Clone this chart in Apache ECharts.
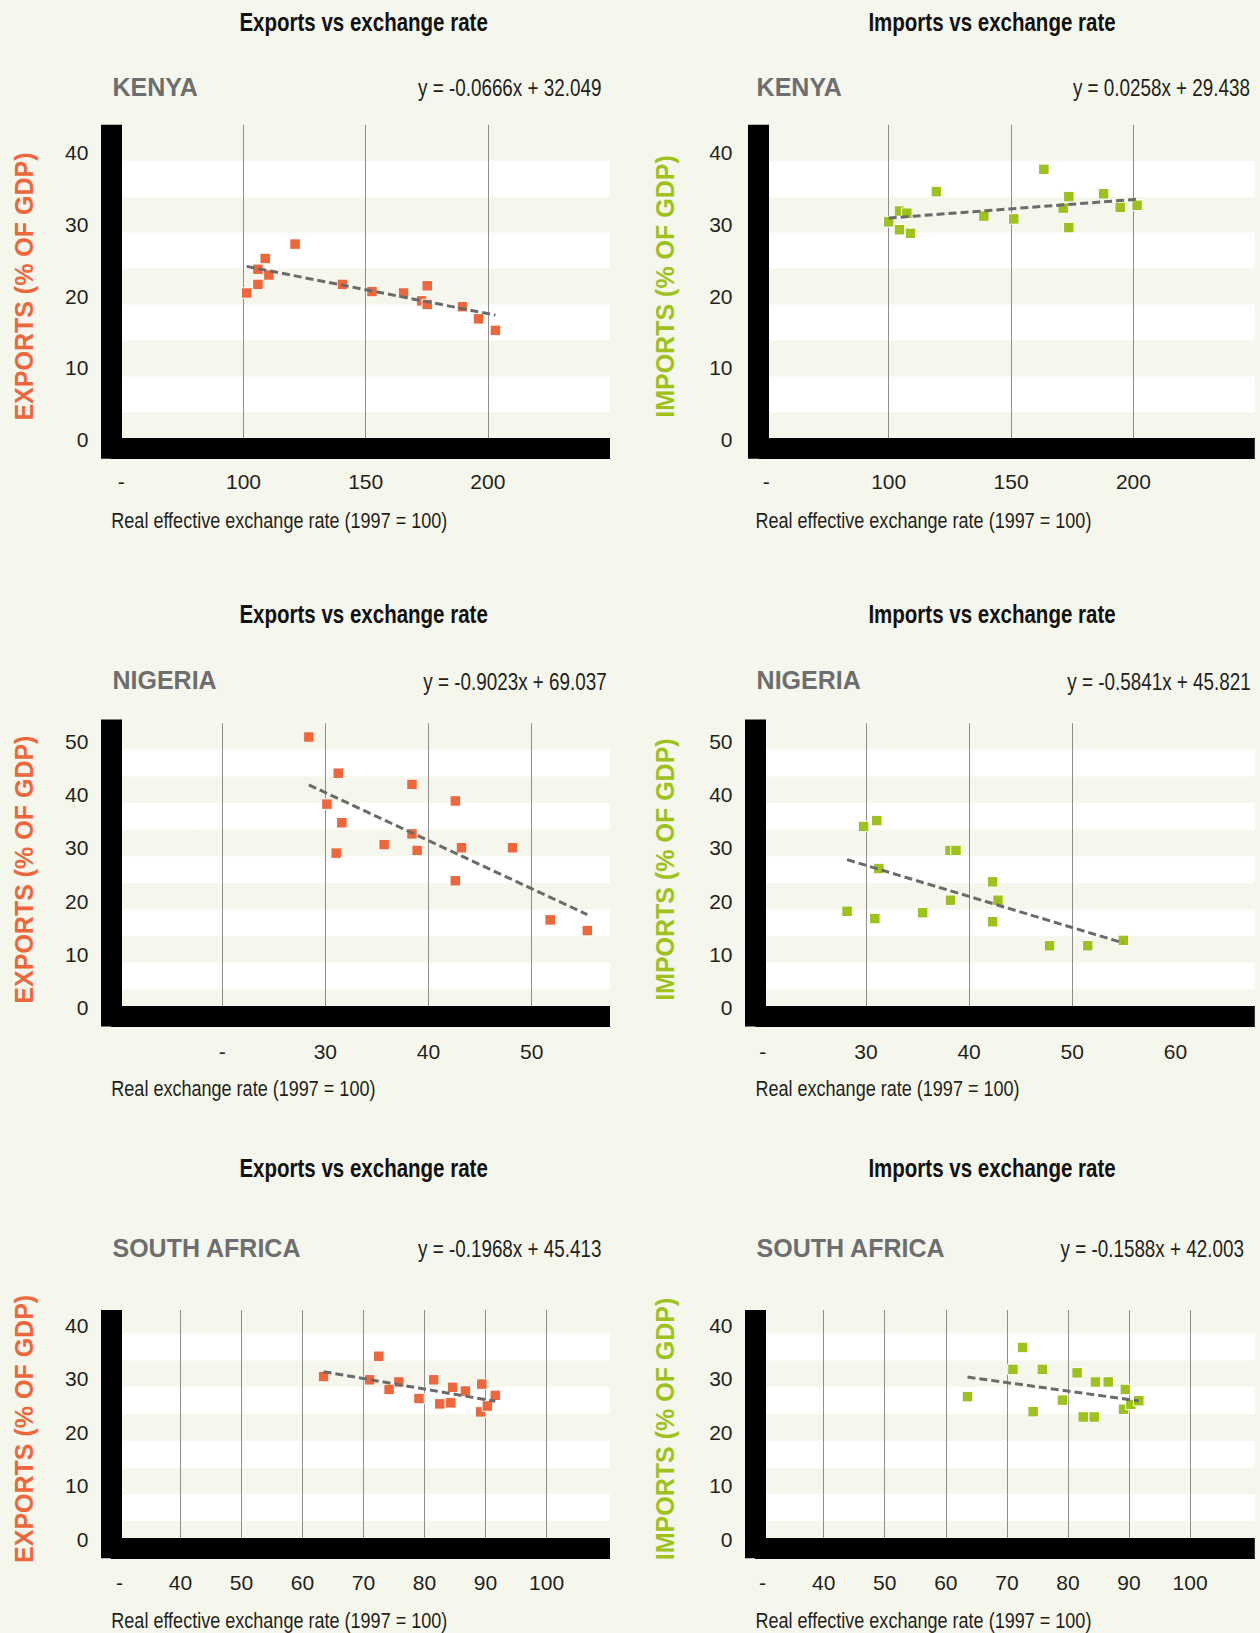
<!DOCTYPE html>
<html>
<head>
<meta charset="utf-8">
<script src="https://cdn.jsdelivr.net/npm/echarts@6/dist/echarts.min.js"></script>
<style>
html,body{margin:0;padding:0;background:#f6f7ec;}
#chart{width:1260px;height:1633px;}
</style>
</head>
<body>
<div id="chart"></div>
<script>
// ---------------- DATA ----------------
const kenyaExportsX = [101.3,105.9,105.9,108.9,110.4,121.1,140.5,152.6,165.5,172.9,175.2,175.2,189.6,196.2,203.1];
const kenyaExportsY = [21.6,22.8,24.9,26.4,24.1,28.4,22.8,21.8,21.6,20.5,20.0,22.6,19.7,18.0,16.4];
const kenyaImportsX = [100.0,104.4,104.4,107.4,108.9,119.5,138.9,151.1,163.4,171.3,173.6,173.6,187.8,194.6,201.5];
const kenyaImportsY = [31.5,33.0,30.4,32.7,29.9,35.7,32.3,31.9,38.8,33.4,35.0,30.7,35.4,33.5,33.8];

const nigeriaExportsX = [28.4,31.25,38.4,30.15,42.6,31.6,38.4,35.7,38.9,43.2,48.15,31.05,42.6,51.8,55.4];
const nigeriaExportsY = [52.4,45.6,43.5,39.8,40.4,36.3,34.2,32.2,31.1,31.6,31.6,30.6,25.4,18.05,16.05];
const nigeriaImportsX = [28.17,29.77,31.05,30.86,31.25,35.5,38.19,38.15,38.73,42.28,42.8,42.28,47.8,51.5,54.95];
const nigeriaImportsY = [19.67,35.6,36.7,18.3,27.7,19.4,21.75,31.1,31.1,25.2,21.75,17.7,13.2,13.2,14.2];

const southAfricaExportsX = [63.45,72.5,71.0,75.8,74.2,79.1,81.5,82.5,84.3,84.6,86.7,89.4,89.2,90.3,91.6];
const southAfricaExportsY = [32.0,35.8,31.4,31.0,29.6,27.9,31.4,26.9,27.1,30.0,29.3,30.6,25.4,26.5,28.5];
const southAfricaImportsX = [63.55,72.57,71.0,75.8,74.3,79.1,81.5,82.5,84.3,84.5,86.6,89.4,89.1,90.3,91.6];
const southAfricaImportsY = [28.25,37.45,33.35,33.35,25.45,27.6,32.7,24.45,24.45,31.0,31.0,29.6,25.9,26.8,27.5];

// trend lines [slope, intercept]
const kenyaExportsTrend = [-0.0666, 32.049];
const kenyaImportsTrend = [0.0258, 29.438];
const nigeriaExportsTrend = [-0.9023, 69.037];
const nigeriaImportsTrend = [-0.5841, 45.821];
const southAfricaExportsTrend = [-0.1968, 45.413];
const southAfricaImportsTrend = [-0.1588, 42.003];

// tick labels
const kenyaXTicks = [50,100,150,200];
const kenyaXTickText = ['-','100','150','200'];
const kenyaXGrid = [100,150,200];
const nigeriaExportsXTicks = [20,30,40,50];
const nigeriaExportsXTickText = ['-','30','40','50'];
const nigeriaExportsXGrid = [20,30,40,50];
const nigeriaImportsXTicks = [20,30,40,50,60];
const nigeriaImportsXTickText = ['-','30','40','50','60'];
const nigeriaImportsXGrid = [30,40,50];
const southAfricaXTicks = [30,40,50,60,70,80,90,100];
const southAfricaXTickText = ['-','40','50','60','70','80','90','100'];
const southAfricaXGrid = [40,50,60,70,80,90,100];
const kenyaYTicks = [0,10,20,30,40];
const nigeriaYTicks = [0,10,20,30,40,50];
const southAfricaYTicks = [0,10,20,30,40];

const exportsTitle = 'Exports vs exchange rate';
const importsTitle = 'Imports vs exchange rate';
const exportsAxisName = 'EXPORTS (% OF GDP)';
const importsAxisName = 'IMPORTS (% OF GDP)';
const effectiveRateName = 'Real effective exchange rate (1997 = 100)';
const realRateName = 'Real exchange rate (1997 = 100)';

// ---------------- STYLE / LAYOUT ----------------
const W = 1260, H = 1633;
const BG = '#f6f7ec';
const ORANGE = '#ef663a', GREEN = '#9cc21b', GREY = '#6d6e70', INK = '#231f20';
const SANS = "'Liberation Sans',Arial,sans-serif";
const COND = 0.82; // horizontal squeeze to imitate the condensed face
const BAR = 21;

const panels = [
  {title: exportsTitle, country: 'KENYA', yName: exportsAxisName, color: ORANGE, xName: effectiveRateName,
   x: kenyaExportsX, y: kenyaExportsY, trend: kenyaExportsTrend,
   xTicks: kenyaXTicks, xTickText: kenyaXTickText, xGrid: kenyaXGrid, yTicks: kenyaYTicks,
   xMin: 50, xMax: 250, xStep: 50, yMax: 45,
   L: {left:121.3, right:610, top:124.75, bottom:448.3, barX:110.85, barTop:124.7, yLabRight:88.4, yNameX:23.1, xLabOff:33.7,
       title:[363.6,22.4], country:[112.5,87], eq:[601.4,87.8], xTitle:[111.3,520]}},
  {title: importsTitle, country: 'KENYA', yName: importsAxisName, color: GREEN, xName: effectiveRateName,
   x: kenyaImportsX, y: kenyaImportsY, trend: kenyaImportsTrend,
   xTicks: kenyaXTicks, xTickText: kenyaXTickText, xGrid: kenyaXGrid, yTicks: kenyaYTicks,
   xMin: 50, xMax: 249.6, xStep: 50, yMax: 45,
   L: {left:766.35, right:1254.8, top:124.75, bottom:448.3, barX:758.5, barTop:124.7, yLabRight:732.5, yNameX:664.7, xLabOff:33.7,
       title:[992,22.4], country:[756.6,87], eq:[1250,87.8], xTitle:[755.4,520]}},
  {title: exportsTitle, country: 'NIGERIA', yName: exportsAxisName, color: ORANGE, xName: realRateName,
   x: nigeriaExportsX, y: nigeriaExportsY, trend: nigeriaExportsTrend,
   xTicks: nigeriaExportsXTicks, xTickText: nigeriaExportsXTickText, xGrid: nigeriaExportsXGrid, yTicks: nigeriaYTicks,
   xMin: 10, xMax: 57.6, xStep: 10, yMax: 55,
   L: {left:119.1, right:610, top:723.2, bottom:1016, barX:110.85, barTop:719.5, yLabRight:88.4, yNameX:23.1, xLabOff:35.8,
       title:[363.6,614.4], country:[112.5,679.5], eq:[606.7,681.6], xTitle:[111.3,1088]}},
  {title: importsTitle, country: 'NIGERIA', yName: importsAxisName, color: GREEN, xName: realRateName,
   x: nigeriaImportsX, y: nigeriaImportsY, trend: nigeriaImportsTrend,
   xTicks: nigeriaImportsXTicks, xTickText: nigeriaImportsXTickText, xGrid: nigeriaImportsXGrid, yTicks: nigeriaYTicks,
   xMin: 20, xMax: 67.7, xStep: 10, yMax: 55,
   L: {left:762.8, right:1254.8, top:723.2, bottom:1016, barX:755.55, barTop:719.5, yLabRight:732.5, yNameX:664.7, xLabOff:35.8,
       title:[992,614.4], country:[756.6,679.5], eq:[1250.7,681.6], xTitle:[755.4,1088]}},
  {title: exportsTitle, country: 'SOUTH AFRICA', yName: exportsAxisName, color: ORANGE, xName: effectiveRateName,
   x: southAfricaExportsX, y: southAfricaExportsY, trend: southAfricaExportsTrend,
   xTicks: southAfricaXTicks, xTickText: southAfricaXTickText, xGrid: southAfricaXGrid, yTicks: southAfricaYTicks,
   xMin: 30, xMax: 110.4, xStep: 10, yMax: 44.45,
   L: {left:119.4, right:610, top:1310, bottom:1547.8, barX:110.85, barTop:1310, yLabRight:88.4, yNameX:23.1, xLabOff:35.5,
       title:[363.6,1168.3], country:[112.5,1247.8], eq:[601.4,1248.3], xTitle:[111.3,1620]}},
  {title: importsTitle, country: 'SOUTH AFRICA', yName: importsAxisName, color: GREEN, xName: effectiveRateName,
   x: southAfricaImportsX, y: southAfricaImportsY, trend: southAfricaImportsTrend,
   xTicks: southAfricaXTicks, xTickText: southAfricaXTickText, xGrid: southAfricaXGrid, yTicks: southAfricaYTicks,
   xMin: 30, xMax: 110.6, xStep: 10, yMax: 44.45,
   L: {left:762.6, right:1254.8, top:1310, bottom:1547.8, barX:755, barTop:1310, yLabRight:732.5, yNameX:664.7, xLabOff:35.5,
       title:[992,1168.3], country:[756.6,1247.8], eq:[1243.9,1248.3], xTitle:[755.4,1620]}}
];

const LABEL_FS = 21, NAME_FS = 25;

const option = {
  backgroundColor: BG,
  animation: false,
  grid: [], xAxis: [], yAxis: [], series: [], graphic: []
};

function eqText(t) {
  return 'y = ' + t[0].toFixed(4) + 'x + ' + t[1].toFixed(3);
}

panels.forEach((p, i) => {
  const L = p.L;
  const dg = 2 * i, fg = 2 * i + 1;
  // data grid
  option.grid.push({left: L.left, right: W - L.right, top: L.top, bottom: H - L.bottom});
  // frame grid (the thick black L-shaped axes)
  option.grid.push({left: L.barX, right: W - L.right, top: L.barTop + BAR / 2, bottom: H - L.bottom});

  option.xAxis.push({
    type: 'value', gridIndex: dg, min: p.xMin, max: p.xMax, interval: p.xStep,
    axisLine: {show: false},
    axisTick: {show: false, customValues: p.xGrid},
    splitLine: {show: true, lineStyle: {color: '#8e8e8e', width: 1}},
    axisLabel: {
      customValues: p.xTicks,
      formatter: v => { const k = p.xTicks.indexOf(v); return k >= 0 ? p.xTickText[k] : ''; },
      margin: L.xLabOff - 11, fontFamily: SANS, fontSize: LABEL_FS, color: INK
    }
  });
  option.xAxis.push({
    type: 'value', gridIndex: fg, min: 0, max: 1, z: 5,
    axisLine: {show: true, onZero: false, lineStyle: {color: '#000', width: BAR, cap: 'butt'}},
    axisTick: {show: false}, axisLabel: {show: false}, splitLine: {show: false}
  });

  option.yAxis.push({
    type: 'value', gridIndex: dg, min: 0, max: p.yMax, interval: 5,
    axisLine: {show: false}, axisTick: {show: false}, splitLine: {show: false},
    splitArea: {show: true, areaStyle: {color: ['rgba(0,0,0,0)', '#ffffff']}},
    axisLabel: {
      customValues: p.yTicks,
      formatter: v => String(v),
      margin: L.left - L.yLabRight, verticalAlign: 'bottom', lineHeight: 17,
      fontFamily: SANS, fontSize: LABEL_FS, color: INK
    },
    name: p.yName, nameLocation: 'middle', nameRotate: 90,
    nameGap: L.left - L.yNameX - 13,
    nameTextStyle: {color: p.color, fontFamily: SANS, fontWeight: 'bold', fontSize: NAME_FS}
  });
  option.yAxis.push({
    type: 'value', gridIndex: fg, min: 0, max: 1, z: 5,
    axisLine: {show: true, onZero: false, lineStyle: {color: '#000', width: BAR, cap: 'square'}},
    axisTick: {show: false}, axisLabel: {show: false}, splitLine: {show: false}
  });

  option.series.push({
    type: 'scatter', xAxisIndex: dg, yAxisIndex: dg, z: 3,
    symbol: 'rect', symbolSize: 10.5,
    itemStyle: {color: p.color, borderColor: '#ffffff', borderWidth: 1, opacity: 1},
    data: p.x.map((v, k) => [v, p.y[k]])
  });
  const x0 = Math.min(...p.x), x1 = Math.max(...p.x);
  option.series.push({
    type: 'line', xAxisIndex: dg, yAxisIndex: dg, z: 4, silent: true,
    symbol: 'none',
    lineStyle: {color: '#6b6b6b', width: 3, type: [8, 4]},
    data: [[x0, p.trend[0] * x0 + p.trend[1]], [x1, p.trend[0] * x1 + p.trend[1]]]
  });

  option.graphic.push(
    {type: 'text', x: L.title[0], y: L.title[1], scaleX: COND, silent: true,
     style: {text: p.title, fill: '#111', fontFamily: SANS, fontWeight: 'bold', fontSize: 25, align: 'center', verticalAlign: 'middle'}},
    {type: 'text', x: L.country[0], y: L.country[1], silent: true,
     style: {text: p.country, fill: GREY, fontFamily: SANS, fontWeight: 'bold', fontSize: 25, align: 'left', verticalAlign: 'middle'}},
    {type: 'text', x: L.eq[0], y: L.eq[1], scaleX: COND, silent: true,
     style: {text: eqText(p.trend), fill: INK, fontFamily: SANS, fontSize: 23, align: 'right', verticalAlign: 'middle'}},
    {type: 'text', x: L.xTitle[0], y: L.xTitle[1], scaleX: COND, silent: true,
     style: {text: p.xName, fill: INK, fontFamily: SANS, fontSize: 22, align: 'left', verticalAlign: 'middle'}}
  );
});

// stray dash visible in the Nigeria exports panel of the original
option.graphic.push({type: 'text', x: 196.9, y: 828, silent: true,
  style: {text: '-', fill: '#000', fontFamily: SANS, fontSize: 14, align: 'center', verticalAlign: 'middle'}});

const chart = echarts.init(document.getElementById('chart'), null, {renderer: 'svg', width: W, height: H});
chart.setOption(option);
</script>
</body>
</html>
